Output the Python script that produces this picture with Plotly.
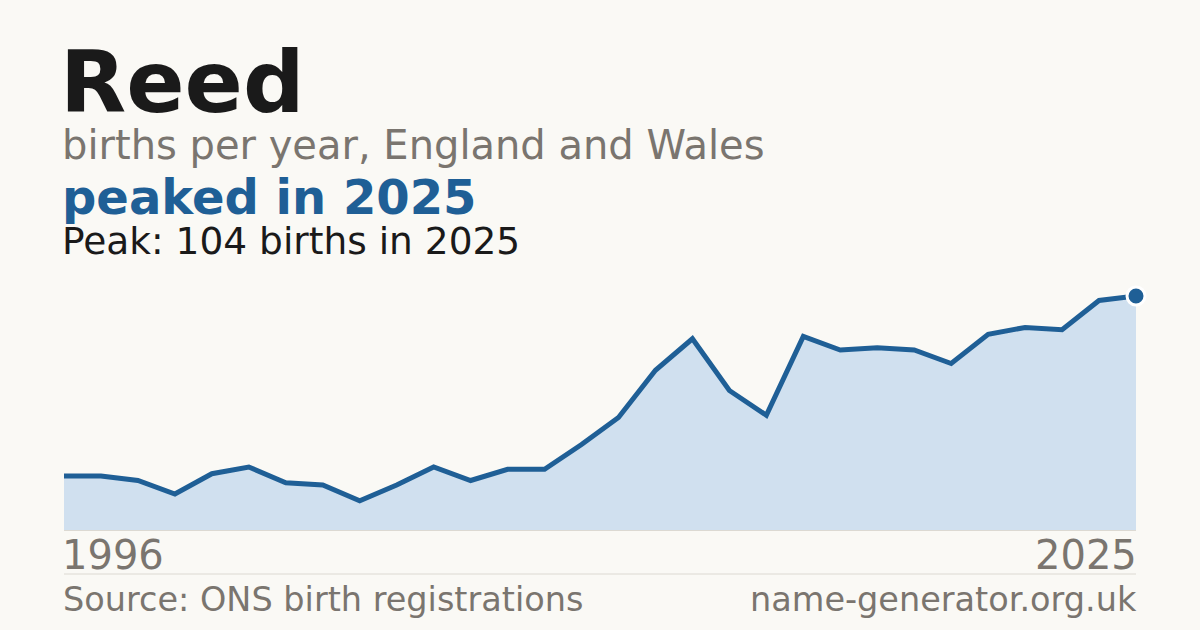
import plotly.graph_objects as go

# births per year for "Reed", England and Wales
years = list(range(1996, 2026))
births = [24, 24, 22, 16, 25, 28, 21, 20, 13, 20,
          28, 22, 27, 27, 38, 50, 71, 85, 62, 51,
          86, 80, 81, 80, 74, 87, 90, 89, 102, 104]

name = "Reed"
subtitle = "births per year, England and Wales"
headline = "peaked in 2025"
source = "Source: ONS birth registrations"
site = "name-generator.org.uk"

BG = "#faf9f5"
INK = "#1a1a1a"
GREY = "#7a756f"
BLUE = "#1f5f96"
FILL = "#d0e0ef"
FONT = "DejaVu Sans"

peak = max(births)
peak_year = years[births.index(peak)]

# plot area: 64..1136 wide, 280..530 tall (pixels)
TOP, BOTTOM = 280, 530


def py(y):
    # pixel row -> paper coordinate
    return (BOTTOM - y) / (BOTTOM - TOP)


fig = go.Figure()

fig.add_trace(
    go.Scatter(
        x=years,
        y=births,
        mode="lines",
        fill="tozeroy",
        fillcolor=FILL,
        line=dict(color=BLUE, width=5),
        cliponaxis=False,
        hoverinfo="skip",
    )
)

fig.add_trace(
    go.Scatter(
        x=[peak_year],
        y=[peak],
        mode="markers",
        marker=dict(size=18, color=BLUE, line=dict(color="white", width=3)),
        cliponaxis=False,
        hoverinfo="skip",
    )
)


def label(text, size, color, yc, right=False, shift=-4):
    return dict(
        text=text, x=1 if right else 0, xref="paper",
        xanchor="right" if right else "left", xshift=shift,
        y=py(yc), yref="paper", yanchor="middle",
        showarrow=False, font=dict(family=FONT, size=size, color=color),
    )


annotations = [
    label(f"<b>{name}</b>", 86, INK, 82, shift=-6),
    label(subtitle, 40, GREY, 145),
    label(f"<b>{headline}</b>", 48, BLUE, 197),
    label(f"Peak: {peak} births in {peak_year}", 37.5, INK, 241),
    # first / last year
    label(str(years[0]), 40, GREY, 555),
    label(str(years[-1]), 40, GREY, 555, right=True, shift=3),
    # footer
    label(source, 33.5, GREY, 599.5, shift=-3),
    label(site, 33.5, GREY, 599.5, right=True, shift=3),
]

fig.update_layout(
    width=1200,
    height=630,
    paper_bgcolor=BG,
    plot_bgcolor=BG,
    showlegend=False,
    margin=dict(l=64, r=64, t=TOP, b=630 - BOTTOM, pad=0),
    xaxis=dict(range=[years[0], years[-1]], visible=False, fixedrange=True),
    yaxis=dict(range=[0, peak * (BOTTOM - TOP) / 234], visible=False, fixedrange=True),
    annotations=annotations,
    shapes=[
        dict(type="line", xref="paper", yref="paper", x0=0, x1=1, y0=0, y1=0,
             line=dict(color="#dcd9d2", width=2), layer="below"),
        dict(type="line", xref="paper", yref="paper", x0=0, x1=1,
             y0=py(574), y1=py(574), line=dict(color="#dcd9d2", width=1)),
    ],
)

fig.write_html("out.html", config={"displayModeBar": False},
               post_script="document.body.style.margin='0';")
